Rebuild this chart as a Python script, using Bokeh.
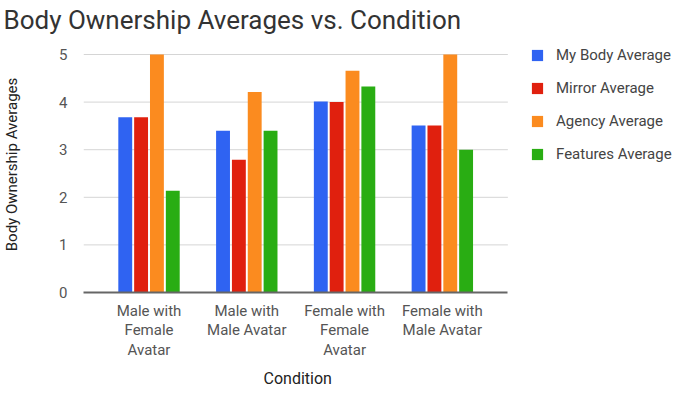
from bokeh.plotting import figure
from bokeh.models import ColumnDataSource, Range1d, FixedTicker, Legend, LegendItem, Title
from bokeh.transform import dodge
from bokeh.embed import file_html
from bokeh.resources import INLINE

conditions = ["Male with\nFemale\nAvatar", "Male with\nMale Avatar",
              "Female with\nFemale\nAvatar", "Female with\nMale Avatar"]
my_body = [3.68, 3.40, 4.01, 3.51]
mirror = [3.68, 2.79, 4.00, 3.51]
agency = [5.0, 4.21, 4.66, 5.0]
features = [2.14, 3.40, 4.33, 3.00]
series_names = ["My Body Average", "Mirror Average", "Agency Average", "Features Average"]
colors = ["#2f63f2", "#e0200e", "#fb8b1f", "#29ad13"]
y_ticks = [0, 1, 2, 3, 4, 5]

FONT = "Roboto"
X_START, X_END = -0.67, 3.67          # extent of the category area
xs = list(range(len(conditions)))
source = ColumnDataSource(dict(x=xs, s0=my_body, s1=mirror, s2=agency, s3=features))
grid_src = ColumnDataSource(dict(y=y_ticks[1:], x0=[X_START] * 5, x1=[X_END] * 5))

p = figure(width=677, height=392, output_backend="svg", toolbar_location=None,
           x_range=Range1d(X_START, 5.405), y_range=Range1d(0, 5.378),
           min_border_left=78, min_border_right=0, min_border_top=36, min_border_bottom=100)
p.outline_line_color = None
p.xgrid.grid_line_color = None
p.ygrid.grid_line_color = None

# horizontal gridlines across the category area only
p.segment(x0="x0", x1="x1", y0="y", y1="y", source=grid_src, line_color="#d5d5d5", line_width=1)

offsets = [-0.243, -0.081, 0.081, 0.243]
renderers = []
for i, col in enumerate(colors):
    r = p.vbar(x=dodge("x", offsets[i]), top=f"s{i}", width=0.142, source=source,
               fill_color=col, line_color=None)
    renderers.append(r)

p.title.text = "Body Ownership Averages vs. Condition"
p.title.text_font = FONT
p.title.text_font_size = "26px"
p.title.text_font_style = "normal"
p.title.text_color = "#333333"
p.title.align = "left"
p.title.offset = -80
p.title.standoff = 3

p.yaxis.ticker = FixedTicker(ticks=y_ticks)
p.yaxis.axis_line_color = None
p.yaxis.major_tick_line_color = None
p.yaxis.minor_tick_line_color = None
p.yaxis.major_label_text_font = FONT
p.yaxis.major_label_text_font_size = "15px"
p.yaxis.major_label_text_color = "#555555"
p.yaxis.major_label_standoff = 10
p.yaxis.axis_label = "Body Ownership Averages"
p.yaxis.axis_label_text_font = FONT
p.yaxis.axis_label_text_font_size = "15px"
p.yaxis.axis_label_text_font_style = "normal"
p.yaxis.axis_label_text_color = "#222222"
p.yaxis.axis_label_standoff = 35

p.xaxis.ticker = FixedTicker(ticks=xs)
p.xaxis.bounds = (X_START, X_END)
p.xaxis.major_label_overrides = {i: c for i, c in zip(xs, conditions)}
p.xaxis.axis_line_color = "#666666"
p.xaxis.axis_line_width = 2
p.xaxis.major_tick_line_color = None
p.xaxis.minor_tick_line_color = None
p.xaxis.major_label_text_font = FONT
p.xaxis.major_label_text_font_size = "15px"
p.xaxis.major_label_text_color = "#555555"
p.xaxis.major_label_text_line_height = 1.1
p.xaxis.major_label_standoff = 3

xtitle = Title(text="Condition", text_font=FONT, text_font_size="16px",
               text_font_style="normal", text_color="#222222", align="left",
               offset=180, standoff=9)
p.add_layout(xtitle, "below")

legend = Legend(items=[LegendItem(label=n, renderers=[r]) for n, r in zip(series_names, renderers)],
                location=(447, 128))
legend.border_line_color = None
legend.background_fill_alpha = 0
legend.padding = 0
legend.margin = 0
legend.glyph_width = 14
legend.glyph_height = 14
legend.label_height = 20
legend.spacing = 13
legend.label_standoff = 12
legend.label_text_font = FONT
legend.label_text_font_size = "15px"
legend.label_text_color = "#444444"
p.add_layout(legend)

open("out.html", "w").write(file_html(p, INLINE))
